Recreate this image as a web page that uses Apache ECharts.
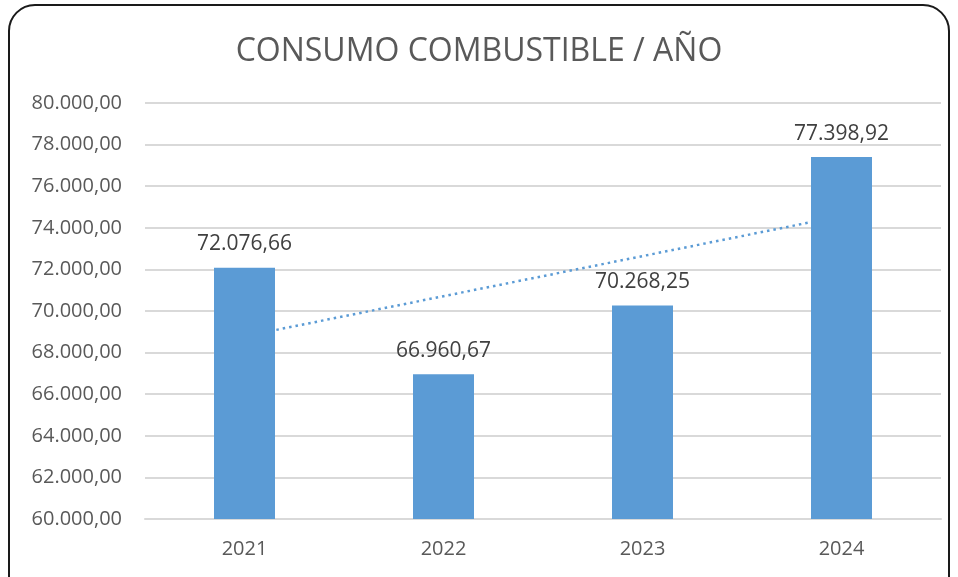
<!DOCTYPE html>
<html>
<head>
<meta charset="utf-8">
<script src="https://cdn.jsdelivr.net/npm/echarts@6/dist/echarts.min.js"></script>
<style>
  html, body { margin: 0; padding: 0; background: #fff; }
  #chart { width: 958px; height: 577px; }
</style>
</head>
<body>
<div id="chart"></div>
<script>
  // datos
  var years = ['2021', '2022', '2023', '2024']
  var consumo = [72076.66, 66960.67, 70268.25, 77398.92]
  // linea de tendencia (lineal), estimada del grafico
  var tendencia = [68785, 70712, 72640, 74567]
  var yTicks = [60000, 62000, 64000, 66000, 68000, 70000, 72000, 74000, 76000, 78000, 80000]

  function fmt(v) {
    var parts = v.toFixed(2).split('.')
    return parts[0].replace(/\B(?=(\d{3})+(?!\d))/g, '.') + ',' + parts[1]
  }

  var chart = echarts.init(document.getElementById('chart'))
  chart.setOption({
    animation: false,
    textStyle: { fontFamily: 'Open Sans' },
    graphic: [{
      type: 'rect',
      shape: { x: 9, y: 5, width: 940, height: 600, r: 26 },
      style: { fill: 'none', stroke: '#1a1a1a', lineWidth: 2 },
      z: 100
    }],
    title: {
      text: 'CONSUMO COMBUSTIBLE / AÑO',
      left: 'center',
      top: 31,
      textStyle: { fontSize: 32, fontWeight: 'normal', color: '#595959', fontFamily: 'Open Sans' }
    },
    grid: { left: 145, right: 17, top: 103, bottom: 58 },
    xAxis: {
      type: 'category',
      data: years,
      axisTick: { show: false },
      axisLine: { lineStyle: { color: '#d9d9d9', width: 2 } },
      axisLabel: { color: '#595959', fontSize: 20, margin: 20 }
    },
    yAxis: {
      type: 'value',
      min: yTicks[0],
      max: yTicks[yTicks.length - 1],
      interval: 2000,
      axisLine: { show: false },
      axisTick: { show: false },
      splitLine: { lineStyle: { color: '#d9d9d9', width: 2 } },
      axisLabel: { color: '#595959', fontSize: 20, margin: 23, formatter: function (v) { return fmt(v) } }
    },
    series: [
      {
        name: 'Tendencia',
        type: 'line',
        data: tendencia,
        z: 1,
        symbol: 'none',
        lineStyle: { color: '#5b9bd5', width: 2.5, type: [2.5, 4] }
      },
      {
        name: 'Consumo',
        type: 'bar',
        data: consumo,
        z: 2,
        barWidth: 61,
        itemStyle: { color: '#5b9bd5' },
        label: {
          show: true,
          position: 'top',
          distance: 13,
          color: '#404040',
          fontSize: 21,
          formatter: function (p) { return fmt(p.value) }
        }
      }
    ]
  })
</script>
</body>
</html>
